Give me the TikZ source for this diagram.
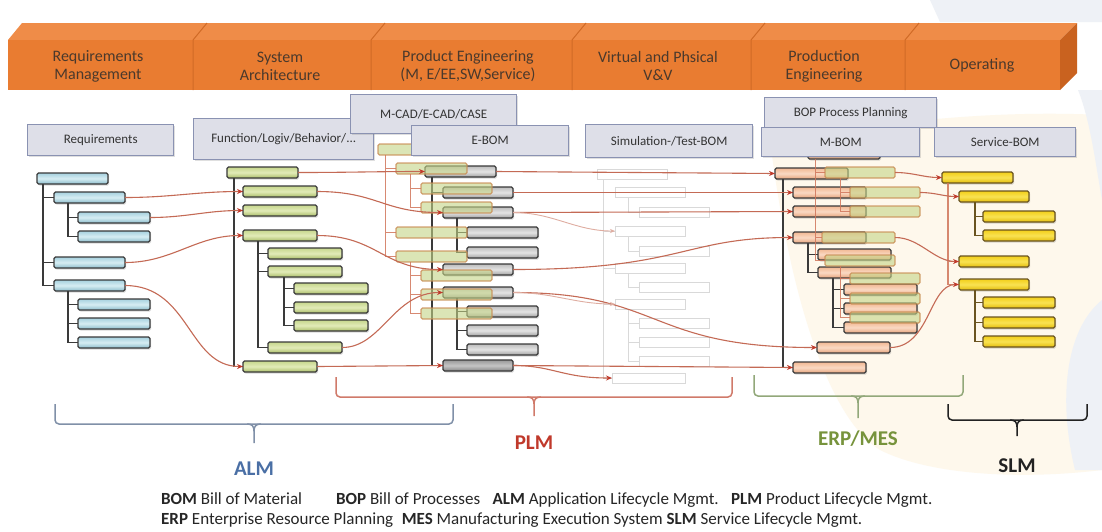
\documentclass[tikz,border=0pt]{standalone}
\usepackage{fontspec}
\setmainfont{Carlito}
\usetikzlibrary{arrows.meta,shadows}
\definecolor{hfront}{HTML}{E97C31}
\definecolor{htop}{HTML}{EF8C48}
\definecolor{hside}{HTML}{C9621F}
\definecolor{hsep}{HTML}{D06A26}
\definecolor{htext}{HTML}{4A392C}
\definecolor{boxfill}{HTML}{DEDFE8}
\definecolor{boxline}{HTML}{8A92B2}
\definecolor{barline}{HTML}{3A3A3A}
\definecolor{treecol}{HTML}{3A3A3A}
\definecolor{conncol}{HTML}{C46A55}
\definecolor{arrowcol}{HTML}{C0392B}
\definecolor{ovline}{HTML}{C88A50}
\definecolor{ovfill}{HTML}{C4D486}
\definecolor{ovtree}{HTML}{D0755A}
\definecolor{blueA}{HTML}{A6D1DE}
\definecolor{blueB}{HTML}{8CBCCB}
\definecolor{blueC}{HTML}{D6EDF3}
\definecolor{greenA}{HTML}{C6D68C}
\definecolor{greenB}{HTML}{AABD68}
\definecolor{greenC}{HTML}{E2EBB8}
\definecolor{grayA}{HTML}{BDBDBD}
\definecolor{grayB}{HTML}{A2A2A2}
\definecolor{grayC}{HTML}{E4E4E4}
\definecolor{salA}{HTML}{F2B893}
\definecolor{salB}{HTML}{E6A47C}
\definecolor{salC}{HTML}{FAD9C3}
\definecolor{yelA}{HTML}{F2CF1A}
\definecolor{yelB}{HTML}{E3BC0C}
\definecolor{yelC}{HTML}{F9E252}
\definecolor{yelline}{HTML}{6A5420}
\definecolor{bgcream}{HTML}{FEF8EC}
\definecolor{bgblue}{HTML}{EEF1F6}
\definecolor{almcol}{HTML}{4A6FA5}
\definecolor{almbr}{HTML}{8090A8}
\definecolor{plmcol}{HTML}{C0392B}
\definecolor{plmbr}{HTML}{D07A6A}
\definecolor{erpcol}{HTML}{77933C}
\definecolor{erpbr}{HTML}{92A87A}
\definecolor{slmcol}{HTML}{222222}
\newcommand{\mkbar}[5]{\node[#1,minimum width=#5] (#2) at (#3,#4) {};}
\newcommand{\mkbrace}[7]{%
  \draw[#1,line width=1.5pt,rounded corners=4pt] (#2,#4) -- (#2,#5) -- (#3,#5) -- (#3,#4);
  \draw[#1,line width=1.5pt] ({#6-7},{#5}) .. controls ({#6-2},{#5}) and ({#6},{#5+2}) .. ({#6},{#5+7}) -- ({#6},{#7});
  \draw[#1,line width=1.5pt] ({#6+7},{#5}) .. controls ({#6+2},{#5}) and ({#6},{#5+2}) .. ({#6},{#5+7});}
\begin{document}
\begin{tikzpicture}[x=1pt,y=-1pt,
  barbase/.style={anchor=north west,inner sep=0pt,outer sep=0pt,minimum height=11pt,
    rounded corners=1.5pt,line width=1.2pt,
    drop shadow={shadow xshift=1.2pt,shadow yshift=-1.5pt,opacity=0.3}},
  bluebar/.style={barbase,draw=barline,top color=blueA,bottom color=blueB,middle color=blueC},
  greenbar/.style={barbase,draw=barline,top color=greenA,bottom color=greenB,middle color=greenC},
  graybar/.style={barbase,draw=barline,top color=grayA,bottom color=grayB,middle color=grayC},
  darkgraybar/.style={barbase,draw=barline,top color=gray!80,bottom color=gray!95,middle color=gray!45},
  salbar/.style={barbase,draw=barline,top color=salA,bottom color=salB,middle color=salC},
  yelbar/.style={barbase,draw=yelline,top color=yelA,bottom color=yelB,middle color=yelC},
  simbar/.style={anchor=north west,inner sep=0pt,outer sep=0pt,minimum height=10pt,
    draw=black!15,fill=white,line width=0.8pt},
  ovbar/.style={anchor=north west,inner sep=0pt,outer sep=0pt,minimum height=11pt,
    rounded corners=1.5pt,line width=1.1pt,draw=ovline,draw opacity=0.8,fill=ovfill,fill opacity=0.6},
  tl/.style={draw=treecol,line width=1.3pt},
  simtl/.style={draw=black!15,line width=0.8pt},
  ovtl/.style={draw=ovtree,line width=1pt,opacity=0.85},
  conn/.style={draw=conncol,line width=1.1pt,-{Stealth[length=6pt,width=5pt,color=arrowcol]}},
  connfaint/.style={draw=conncol!55,line width=0.9pt,-{Stealth[length=5pt,width=4pt,color=conncol!55]}},
  lbox/.style={anchor=north west,draw=boxline,fill=boxfill,line width=1.4pt,inner sep=0pt,
    font=\fontsize{13}{15}\selectfont,text=black!80,
    drop shadow={shadow xshift=1.5pt,shadow yshift=-1.5pt,opacity=0.25}},
  htxt/.style={align=center,text=htext,font=\fontsize{16}{18}\selectfont},
  brlabel/.style={font=\bfseries\fontsize{21}{24}\selectfont},
  legtxt/.style={anchor=west,inner sep=0pt,text=black!85,font=\fontsize{17}{19}\selectfont}
]
\useasboundingbox (0,0) rectangle (1102,531);
\fill[white] (0,0) rectangle (1102,531);
% faint background
\fill[bgcream] (770,140) .. controls (900,120) and (1000,110) .. (1102,115) -- (1102,470)
  .. controls (1020,480) and (930,475) .. (880,450) .. controls (830,420) and (790,300) .. cycle;
\fill[bgblue] (930,0) -- (1102,0) -- (1102,22) -- (940,22) -- cycle;
\fill[bgblue] (1078,90) .. controls (1090,120) and (1095,160) .. (1102,200) -- (1102,90) -- cycle;
\fill[bgblue] (1102,300) .. controls (1065,330) and (1058,400) .. (1075,470) -- (1102,470) -- cycle;
% header
\fill[htop] (8,40) -- (22,23) -- (1077,23) -- (1060,40) -- cycle;
\fill[hfront] (8,40) rectangle (1060,90);
\fill[hside] (1060,40) -- (1077,23) -- (1077,73) -- (1060,90) -- cycle;
\foreach \sx in {193,371,572,751,905}{
  \draw[hsep,line width=1pt] (\sx,90) -- (\sx,40) -- (\sx+14,23);}
\node[htxt] (h1) at (98,66) {Requirements\\Management};
\node[htxt] (h2) at (280,66) {System\\Architecture};
\node[htxt] (h3) at (468,66) {Product Engineering\\(M, E/EE,SW,Service)};
\node[htxt] (h4) at (658,66) {Virtual and Phsical\\V\&V};
\node[htxt] (h5) at (824,66) {Production\\Engineering};
\node[htxt] (h6) at (982,65) {Operating};
% ---------- blue tree
\mkbar{bluebar}{B0}{37}{173}{71}
\mkbar{bluebar}{B1}{54}{192}{71}
\mkbar{bluebar}{B11}{78}{212}{72}
\mkbar{bluebar}{B12}{78}{231}{72}
\mkbar{bluebar}{B2}{54}{257}{71}
\mkbar{bluebar}{B3}{54}{280}{71}
\mkbar{bluebar}{B31}{78}{299}{72}
\mkbar{bluebar}{B32}{78}{318}{72}
\mkbar{bluebar}{B33}{78}{337}{72}
\draw[tl] ([xshift=6pt]B0.south west) |- (B1.west) ([xshift=6pt]B0.south west) |- (B2.west) ([xshift=6pt]B0.south west) |- (B3.west);
\draw[tl] ([xshift=14pt]B1.south west) |- (B11.west) ([xshift=14pt]B1.south west) |- (B12.west);
\draw[tl] ([xshift=14pt]B3.south west) |- (B31.west) ([xshift=14pt]B3.south west) |- (B32.west) ([xshift=14pt]B3.south west) |- (B33.west);
% ---------- green tree
\mkbar{greenbar}{G0}{227}{167}{71}
\mkbar{greenbar}{Ga}{243}{186}{74}
\mkbar{greenbar}{Gb}{243}{205}{74}
\mkbar{greenbar}{Gc}{243}{230}{74}
\mkbar{greenbar}{Gc1}{268}{248}{74}
\mkbar{greenbar}{Gc2}{268}{266}{74}
\mkbar{greenbar}{Gc2a}{294}{283}{74}
\mkbar{greenbar}{Gc2b}{294}{302}{74}
\mkbar{greenbar}{Gc2c}{294}{320}{74}
\mkbar{greenbar}{Gc3}{268}{342}{74}
\mkbar{greenbar}{Gd}{243}{361}{74}
\draw[tl] ([xshift=7pt]G0.south west) |- (Ga.west) ([xshift=7pt]G0.south west) |- (Gb.west) ([xshift=7pt]G0.south west) |- (Gc.west) ([xshift=7pt]G0.south west) |- (Gd.west);
\draw[tl] ([xshift=15pt]Gc.south west) |- (Gc1.west) ([xshift=15pt]Gc.south west) |- (Gc2.west) ([xshift=15pt]Gc.south west) |- (Gc3.west);
\draw[tl] ([xshift=16pt]Gc2.south west) |- (Gc2a.west) ([xshift=16pt]Gc2.south west) |- (Gc2b.west) ([xshift=16pt]Gc2.south west) |- (Gc2c.west);
% ---------- gray tree (E-BOM)
\mkbar{graybar}{E0}{425}{166}{71}
\mkbar{graybar}{E1}{443}{187}{70}
\mkbar{graybar}{E2}{443}{207}{70}
\mkbar{graybar}{E21}{467}{227}{71}
\mkbar{graybar}{E22}{467}{247}{71}
\mkbar{graybar}{E3}{443}{264}{70}
\mkbar{graybar}{E4}{443}{287}{70}
\mkbar{graybar}{E41}{467}{306}{71}
\mkbar{graybar}{E42}{467}{325}{71}
\mkbar{graybar}{E43}{467}{344}{71}
\mkbar{darkgraybar}{E5}{443}{360}{70}
\draw[tl] ([xshift=7pt]E0.south west) |- (E1.west) ([xshift=7pt]E0.south west) |- (E2.west) ([xshift=7pt]E0.south west) |- (E3.west) ([xshift=7pt]E0.south west) |- (E4.west) ([xshift=7pt]E0.south west) |- (E5.west);
\draw[tl] ([xshift=14pt]E2.south west) |- (E21.west) ([xshift=14pt]E2.south west) |- (E22.west);
\draw[tl] ([xshift=14pt]E4.south west) |- (E41.west) ([xshift=14pt]E4.south west) |- (E42.west) ([xshift=14pt]E4.south west) |- (E43.west);
% ---------- faint simulation tree
\mkbar{simbar}{S0}{597}{169}{70}
\mkbar{simbar}{S1}{615}{187}{70}
\mkbar{simbar}{S11}{639}{207}{70}
\mkbar{simbar}{S2}{615}{226}{70}
\mkbar{simbar}{S21}{639}{246}{70}
\mkbar{simbar}{S3}{615}{263}{70}
\mkbar{simbar}{S31}{639}{282}{70}
\mkbar{simbar}{S4}{615}{299}{70}
\mkbar{simbar}{S41}{639}{318}{70}
\mkbar{simbar}{S42}{639}{337}{70}
\mkbar{simbar}{S43}{639}{356}{70}
\mkbar{simbar}{S5}{612}{373}{73}
\draw[simtl] ([xshift=6pt]S0.south west) |- (S1.west) ([xshift=6pt]S0.south west) |- (S2.west) ([xshift=6pt]S0.south west) |- (S3.west) ([xshift=6pt]S0.south west) |- (S4.west) ([xshift=6pt]S0.south west) |- (S5.west);
\draw[simtl] ([xshift=13pt]S1.south west) |- (S11.west);
\draw[simtl] ([xshift=13pt]S2.south west) |- (S21.west);
\draw[simtl] ([xshift=13pt]S3.south west) |- (S31.west);
\draw[simtl] ([xshift=13pt]S4.south west) |- (S41.west) ([xshift=13pt]S4.south west) |- (S42.west) ([xshift=13pt]S4.south west) |- (S43.west);
% ---------- salmon tree (M-BOM)
\mkbar{salbar}{M00}{808}{148}{72}
\mkbar{salbar}{M0}{775}{168}{73}
\mkbar{salbar}{M1}{793}{187}{73}
\mkbar{salbar}{M2}{793}{206}{73}
\mkbar{salbar}{M3}{793}{232}{73}
\mkbar{salbar}{M31}{818}{249}{73}
\mkbar{salbar}{M32}{818}{267}{73}
\mkbar{salbar}{M321}{844}{284}{73}
\mkbar{salbar}{M322}{844}{303}{73}
\mkbar{salbar}{M323}{844}{322}{73}
\mkbar{salbar}{M4}{817}{342}{73}
\mkbar{salbar}{M5}{793}{362}{73}
\draw[tl] ([xshift=8pt]M0.south west) |- (M1.west) ([xshift=8pt]M0.south west) |- (M2.west) ([xshift=8pt]M0.south west) |- (M3.west) ([xshift=8pt]M0.south west) |- (M5.west);
\draw[tl] ([xshift=15pt]M3.south west) |- (M31.west) ([xshift=15pt]M3.south west) |- (M32.west);
\draw[tl] ([xshift=15pt]M32.south west) |- (M321.west) ([xshift=15pt]M32.south west) |- (M322.west) ([xshift=15pt]M32.south west) |- (M323.west);
% ---------- yellow tree (Service-BOM)
\mkbar{yelbar}{Y0}{942}{172}{71}
\mkbar{yelbar}{Y1}{959}{191}{70}
\mkbar{yelbar}{Y11}{983}{211}{72}
\mkbar{yelbar}{Y12}{983}{230}{72}
\mkbar{yelbar}{Y2}{959}{256}{70}
\mkbar{yelbar}{Y3}{959}{279}{70}
\mkbar{yelbar}{Y31}{983}{297}{72}
\mkbar{yelbar}{Y32}{983}{317}{72}
\mkbar{yelbar}{Y33}{983}{336}{72}
\draw[ovtl,line width=1.2pt] ([xshift=6pt]Y0.south west) |- (Y1.west) ([xshift=6pt]Y0.south west) |- (Y2.west) ([xshift=6pt]Y0.south west) |- (Y3.west);
\draw[tl,draw=yelline] ([xshift=16pt]Y1.south west) |- (Y11.west) ([xshift=16pt]Y1.south west) |- (Y12.west);
\draw[tl,draw=yelline] ([xshift=16pt]Y3.south west) |- (Y31.west) ([xshift=16pt]Y3.south west) |- (Y32.west) ([xshift=16pt]Y3.south west) |- (Y33.west);
% ---------- overlay (E-BOM column)
\mkbar{ovbar}{O0}{378}{144}{71}
\mkbar{ovbar}{OA}{396}{163}{71}
\mkbar{ovbar}{OA1}{421}{183}{71}
\mkbar{ovbar}{OA2}{421}{202}{71}
\mkbar{ovbar}{OB}{396}{227}{71}
\mkbar{ovbar}{OC}{396}{251}{71}
\mkbar{ovbar}{OC1}{421}{270}{71}
\mkbar{ovbar}{OC2}{421}{289}{71}
\mkbar{ovbar}{OC3}{421}{308}{71}
\draw[ovtl] ([xshift=7pt]O0.south west) |- (OA.west) ([xshift=7pt]O0.south west) |- (OB.west) ([xshift=7pt]O0.south west) |- (OC.west);
\draw[ovtl] ([xshift=14pt]OA.south west) |- (OA1.west) ([xshift=14pt]OA.south west) |- (OA2.west);
\draw[ovtl] ([xshift=14pt]OC.south west) |- (OC1.west) ([xshift=14pt]OC.south west) |- (OC2.west) ([xshift=14pt]OC.south west) |- (OC3.west);
% ---------- overlay (M-BOM column)
\mkbar{ovbar}{N0}{825}{167}{70}
\mkbar{ovbar}{N1}{850}{187}{70}
\mkbar{ovbar}{N2}{850}{206}{70}
\mkbar{ovbar}{N3}{822}{232}{73}
\mkbar{ovbar}{N4}{825}{255}{70}
\mkbar{ovbar}{N5}{850}{273}{70}
\mkbar{ovbar}{N6}{850}{293}{70}
\mkbar{ovbar}{N7}{850}{312}{70}
\draw[ovtl] ([xshift=7pt]M00.south west) |- (N0.west) ([xshift=7pt]M00.south west) |- (N3.west) ([xshift=7pt]M00.south west) |- (N4.west);
\draw[ovtl] ([xshift=15pt]N0.south west) |- (N1.west) ([xshift=15pt]N0.south west) |- (N2.west);
\draw[ovtl] ([xshift=15pt]N4.south west) |- (N5.west) ([xshift=15pt]N4.south west) |- (N6.west) ([xshift=15pt]N4.south west) |- (N7.west);
% ---------- connectors
\draw[conn] (B1.east) to[out=0,in=180] (Ga.west);
\draw[conn] (B11.east) to[out=0,in=180] (Gb.west);
\draw[conn] (B2.east) to[out=0,in=180] (Gc.west);
\draw[conn] (B3.east) .. controls +(65,0) and +(-55,0) .. (Gd.west);
\draw[conn] (G0.east) to[out=0,in=180] (E0.west);
\draw[conn] (Ga.east) .. controls +(60,0) and +(-60,0) .. (E2.west);
\draw[conn] (Gc.east) .. controls +(60,0) and +(-60,0) .. (E3.west);
\draw[conn] (Gc3.east) .. controls +(40,0) and +(-50,0) .. (E4.west);
\draw[conn] (Gd.east) -- (E5.west);
\draw[conn] (E0.east) -- (M0.west);
\draw[conn] (E1.east) -- (M1.west);
\draw[conn] (E2.east) -- (M2.west);
\draw[conn] (E3.east) .. controls +(170,0) and +(-110,0) .. (M3.west);
\draw[conn] (E4.east) .. controls +(150,0) and +(-170,0) .. (M4.west);
\draw[conn] (E5.east) -- (M5.west);
\draw[conn] (E5.east) .. controls +(40,0) and +(-50,0) .. (S5.west);
\draw[connfaint] (E2.east) .. controls +(40,0) and +(-40,0) .. (S2.west);
\draw[connfaint] (E4.east) .. controls +(40,0) and +(-40,0) .. (S4.west);
\draw[conn] (N0.east) to[out=0,in=180] (Y0.west);
\draw[conn] (N1.east) to[out=0,in=180] (Y1.west);
\draw[conn] (N3.east) .. controls +(25,0) and +(-25,0) .. (Y2.west);
\draw[conn] (M4.east) .. controls +(40,0) and +(-30,0) .. (Y3.west);
% ---------- label boxes
\node[lbox,minimum width=146,minimum height=31] (lreq) at (27,124) {Requirements};
\node[lbox,minimum width=180,minimum height=41] (lfun) at (193,118) {Function/Logiv/Behavior/...};
\node[lbox,minimum width=166,minimum height=39] (lcad) at (350,94) {M-CAD/E-CAD/CASE};
\node[lbox,minimum width=157,minimum height=30] (lebom) at (411,125) {E-BOM};
\node[lbox,minimum width=167,minimum height=33] (lsim) at (585,124) {Simulation-/Test-BOM};
\node[lbox,minimum width=172,minimum height=30] (lbop) at (764,97) {BOP Process Planning};
\node[lbox,minimum width=158,minimum height=29] (lmbom) at (761,127) {M-BOM};
\node[lbox,minimum width=141,minimum height=29] (lsbom) at (934,127) {Service-BOM};
% ---------- braces
\mkbrace{almbr}{55}{453}{404}{424}{254}{443}
\mkbrace{plmbr}{336}{732}{377}{397}{534}{416}
\mkbrace{erpbr}{754}{963}{375}{396}{858}{418}
\mkbrace{slmcol}{948}{1087}{404}{420}{1017}{436}
\node[brlabel,text=almcol] (alm) at (254,469) {ALM};
\node[brlabel,text=plmcol] (plm) at (534,443) {PLM};
\node[brlabel,text=erpcol] (erp) at (858,439) {ERP/MES};
\node[brlabel,text=slmcol] (slm) at (1017,466) {SLM};
% ---------- legend
\node[legtxt] (leg1) at (161,500)
  {\textbf{BOM} Bill of Material\qquad\textbf{BOP} Bill of Processes\enspace\ \textbf{ALM} Application Lifecycle Mgmt.\enspace\ \textbf{PLM} Product Lifecycle Mgmt.};
\node[legtxt] (leg2) at (161,520)
  {\textbf{ERP} Enterprise Resource Planning\enspace\textbf{MES} Manufacturing Execution System \textbf{SLM} Service Lifecycle Mgmt.};
\end{tikzpicture}
\end{document}
